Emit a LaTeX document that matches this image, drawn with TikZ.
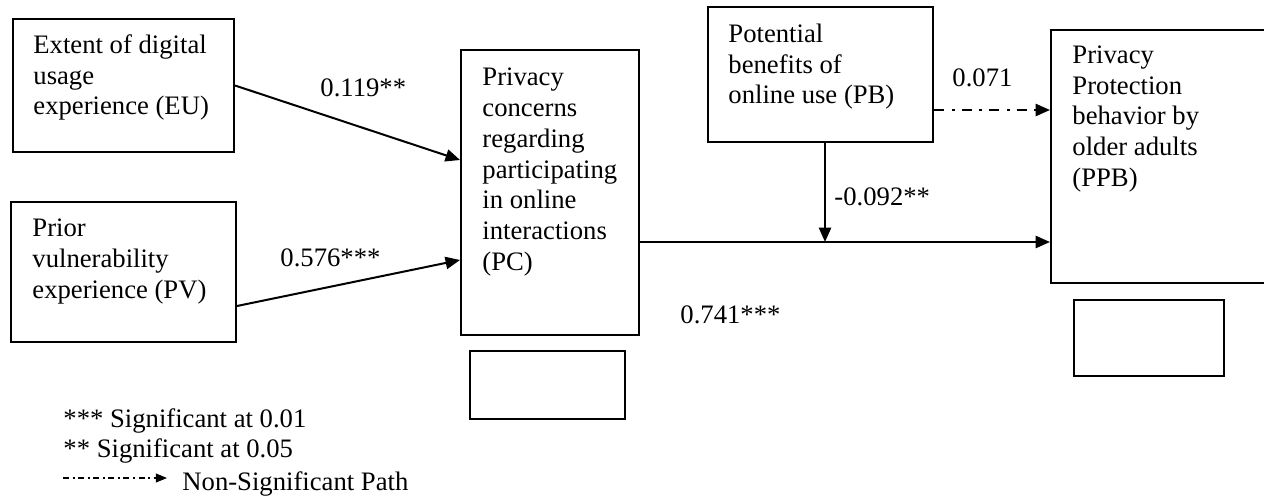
\documentclass[tikz,border=0pt]{standalone}
\usepackage{fontspec}
\setmainfont{Liberation Serif}
\usetikzlibrary{arrows.meta,calc}

\begin{document}
\begin{tikzpicture}[x=0.45pt,y=-0.45pt,
    box/.style={draw,line width=0.9pt,inner sep=0pt},
    blank/.style={draw,line width=0.6pt,inner sep=0pt},
    txt/.style={anchor=base west,inner sep=0pt,align=left,font=\fontsize{12}{13.8}\selectfont},
    link/.style={line width=0.9pt,-{Triangle[length=6.5pt,width=5.5pt]}},
    nonsig/.style={link,dash pattern=on 4.5pt off 3.4pt on 1.4pt off 3.1pt}]
  \useasboundingbox (0,0) rectangle (1264,498);

  % constructs
  \node[box,minimum width=99.45pt,minimum height=59.85pt] (eu) at (123.5,85.5) {};
  \node[box,minimum width=101.25pt,minimum height=63pt] (pv) at (123.5,272) {};
  \node[box,minimum width=80.1pt,minimum height=128.25pt] (pc) at (550,192.5) {};
  \node[box,minimum width=101.25pt,minimum height=60.75pt] (pb) at (820.5,74.5) {};
  \node[box,minimum width=98.55pt,minimum height=113.85pt] (ppb) at (1160.5,156.5) {};
  \node[blank,minimum width=69.75pt,minimum height=30.6pt] (pcr) at (547.5,385) {};
  \node[blank,minimum width=67.5pt,minimum height=34.2pt] (ppbr) at (1149,338) {};

  % texts sit on the baseline of their last line
  \node[txt] (eutxt) at (33,115) {Extent of digital\\usage\\experience (EU)};
  \node[txt] (pvtxt) at (32,298) {Prior\\vulnerability\\experience (PV)};
  \node[txt] (pctxt) at (482,270) {Privacy\\concerns\\regarding\\participating\\in online\\interactions\\(PC)};
  \node[txt] (pbtxt) at (728,104) {Potential\\benefits of\\online use (PB)};
  \node[txt] (ppbtxt) at (1072,186) {Privacy\\Protection\\behavior by\\older adults\\(PPB)};

  % paths
  \coordinate (jn) at (825,242);
  \coordinate (ns) at ($(pb.east)+(0,35.5)$);
  \draw[link] (eu.east) -- ($(pc.west)+(0,-32.5)$);
  \draw[link] ($(pv.east)+(0,34)$) -- ($(pc.west)+(0,67.5)$);
  \draw[link] (pc.east |- jn) -- (ppb.west |- jn);
  \draw[link] (pb.south -| jn) -- (jn);
  \draw[nonsig] (ns) -- (ppb.west |- ns);

  \node[txt] (b1) at (320,97) {0.119**};
  \node[txt] (b2) at (280,266) {0.576***};
  \node[txt] (b3) at (952,87) {0.071};
  \node[txt] (b4) at (834,205) {-0.092**};
  \node[txt] (b5) at (680,323) {0.741***};

  % legend
  \node[txt] (lg1) at (63,427) {*** Significant at 0.01};
  \node[txt] (lg2) at (63,457) {** Significant at 0.05};
  \node[txt] (lg3) at (182,490) {Non-Significant Path};
  \coordinate (lgs) at (63,478);
  \coordinate (lge) at (167,478);
  \draw[line width=0.5pt,dash pattern=on 2.7pt off 1.6pt on 0.9pt off 1.6pt,
    -{Triangle[length=5pt,width=4pt]}] (lgs) -- (lge);
\end{tikzpicture}
\end{document}
